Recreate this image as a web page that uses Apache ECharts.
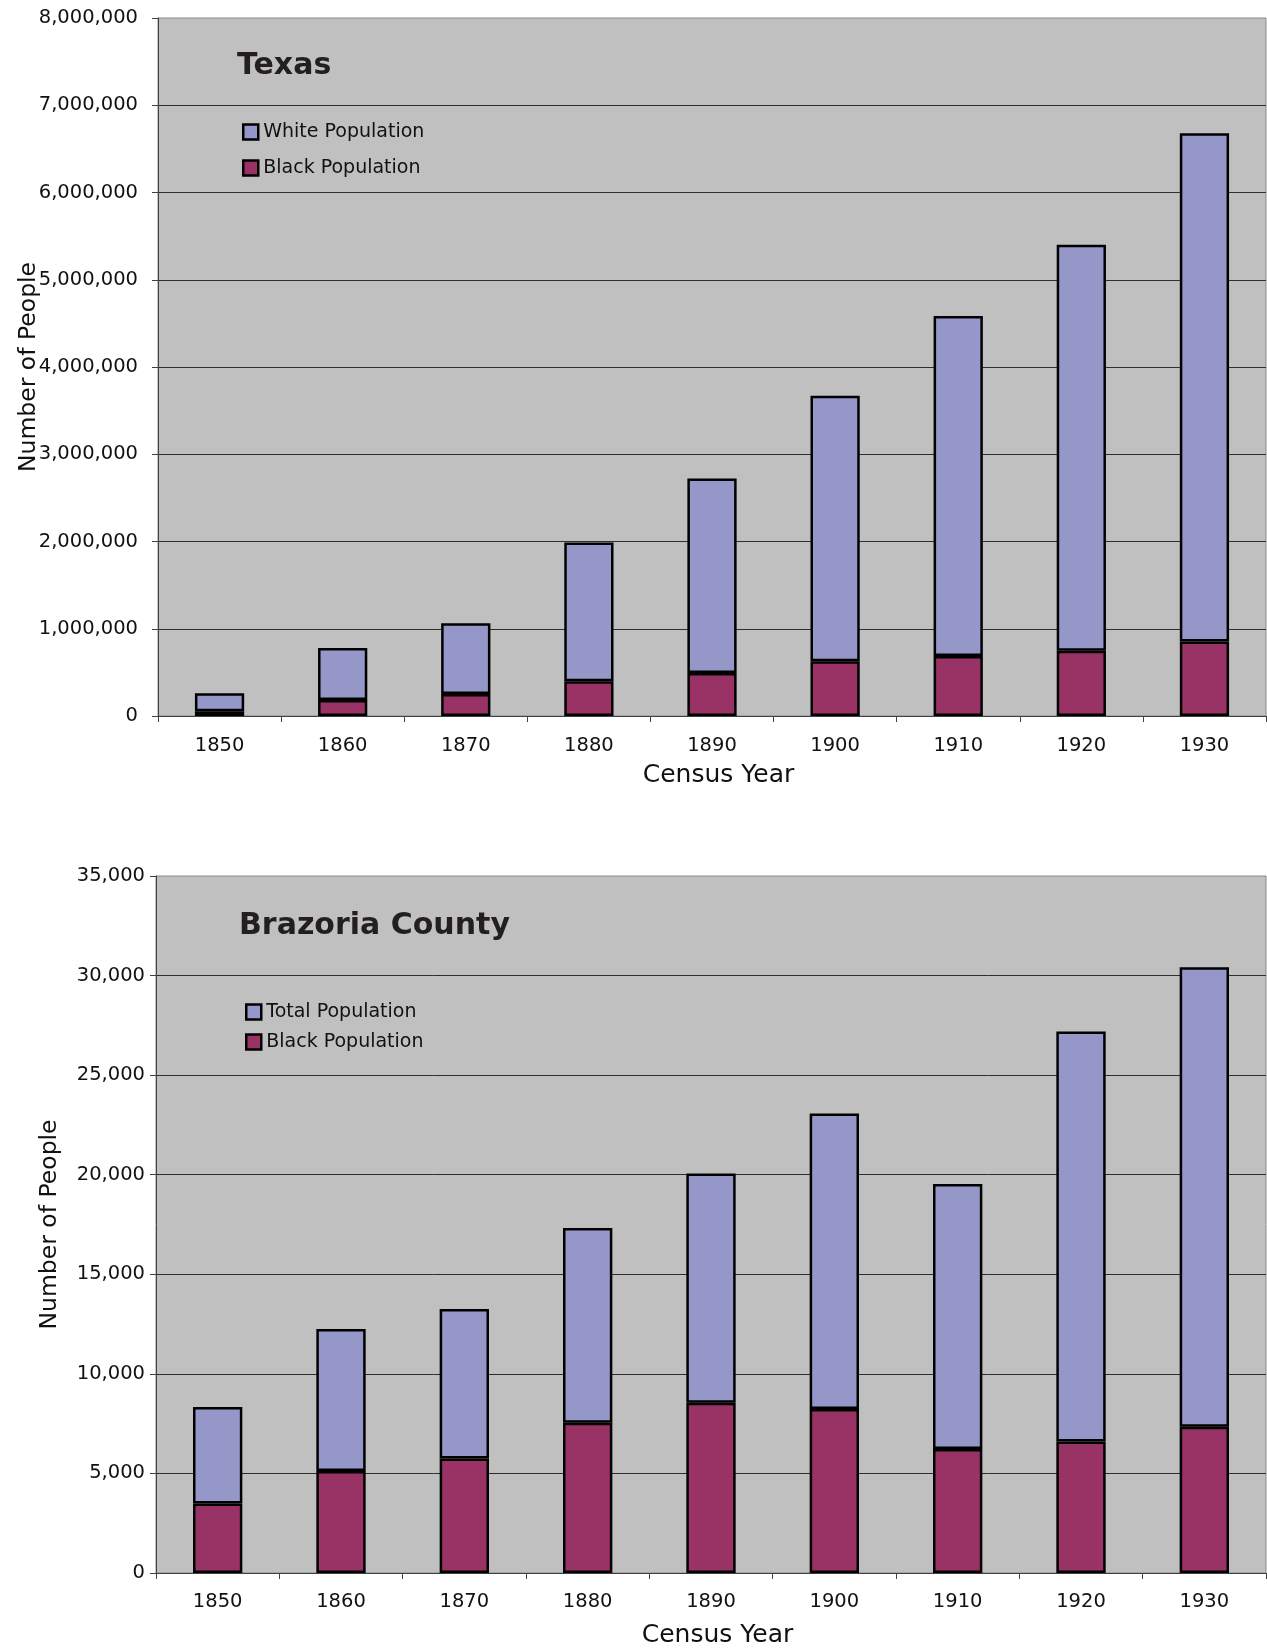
<!DOCTYPE html>
<html>
<head>
<meta charset="utf-8">
<title>Texas and Brazoria County Population by Census Year</title>
<script src="https://cdn.jsdelivr.net/npm/echarts@6/dist/echarts.min.js"></script>
<style>
  html, body { margin: 0; padding: 0; background: #ffffff; }
  #chart { width: 1267px; height: 1648px; }
</style>
</head>
<body>
<div id="chart"></div>
<script>
// Census years shared by both panels
const years = ['1850', '1860', '1870', '1880', '1890', '1900', '1910', '1920', '1930'];

// Texas (stacked: black population at the base, white population on top)
const texasBlack = [55000, 182000, 251000, 398000, 494000, 627000, 687000, 747000, 855000];
const texasWhite = [207000, 597000, 811000, 1590000, 2229000, 3043000, 3898000, 4653000, 5825000];

// Brazoria County (stacked: black population at the base, total population on top)
const brazoriaBlack = [3485, 5121, 5755, 7550, 8553, 8237, 6230, 6600, 7339];
const brazoriaTotal = [4857, 7128, 7497, 9768, 11510, 14836, 13305, 20591, 23073];

// Value axis ranges
const texasAxis = { max: 8000000, interval: 1000000 };
const brazoriaAxis = { max: 35000, interval: 5000 };

const BLUE = '#9597c9';
const PLUM = '#993366';
const TEXT = '#111111';
const LABEL_FONT = 'DejaVu Sans';

function withCommas(v) {
  return String(Math.round(v)).replace(/\B(?=(\d{3})+(?!\d))/g, ',');
}

const chart = echarts.init(document.getElementById('chart'), null, { renderer: 'canvas' });

const gridCommon = {
  show: true,
  backgroundColor: '#c0c0c0',
  borderColor: '#8a8a8a',
  borderWidth: 1,
  containLabel: false,
  outerBoundsMode: 'none'
};

function xAxisFor(gridIndex, labelMargin, nameGap) {
  return {
    type: 'category',
    gridIndex: gridIndex,
    data: years,
    boundaryGap: true,
    axisLine: { show: true, lineStyle: { color: '#404040', width: 1 } },
    axisTick: { show: true, length: 6, lineStyle: { color: '#404040' } },
    axisLabel: { color: TEXT, fontFamily: LABEL_FONT, fontSize: 19.5, margin: labelMargin },
    name: 'Census Year',
    nameLocation: 'middle',
    nameGap: nameGap,
    nameMoveOverlap: false,
    nameTextStyle: { color: TEXT, fontFamily: LABEL_FONT, fontSize: 25, padding: [0, 0, 0, 13] },
    splitLine: { show: false }
  };
}

function yAxisFor(gridIndex, range, labelMargin, nameGap) {
  return {
    type: 'value',
    gridIndex: gridIndex,
    min: 0,
    max: range.max,
    interval: range.interval,
    axisLine: { show: true, lineStyle: { color: '#404040', width: 1 } },
    axisTick: { show: true, length: 6, lineStyle: { color: '#404040' } },
    axisLabel: {
      color: TEXT, fontFamily: LABEL_FONT, fontSize: 19.5, margin: labelMargin,
      formatter: withCommas
    },
    splitLine: { show: true, showMaxLine: false, lineStyle: { color: '#2e2e2e', width: 1 } },
    name: 'Number of People',
    nameLocation: 'middle',
    nameGap: nameGap,
    nameMoveOverlap: false,
    nameTextStyle: { color: TEXT, fontFamily: LABEL_FONT, fontSize: 23.5 }
  };
}

const barStyle = (color) => ({ color: color, borderColor: '#000000', borderWidth: 2.5 });

const legendCommon = {
  orient: 'vertical',
  padding: 0,
  itemWidth: 15,
  itemHeight: 15,
  icon: 'rect',
  itemStyle: { borderColor: '#000000', borderWidth: 2.5 },
  textStyle: { color: TEXT, fontFamily: LABEL_FONT, fontSize: 19, lineHeight: 20 },
  selectedMode: false
};

chart.setOption({
  animation: false,
  backgroundColor: '#ffffff',
  grid: [
    Object.assign({ left: 158, right: 1, top: 18, height: 698 }, gridCommon),
    Object.assign({ left: 156, right: 1, top: 876, height: 697 }, gridCommon)
  ],
  xAxis: [xAxisFor(0, 20, 46.5), xAxisFor(1, 19, 49.5)],
  yAxis: [yAxisFor(0, texasAxis, 20, 117), yAxisFor(1, brazoriaAxis, 11, 94)],
  legend: [
    Object.assign({ left: 242, top: 122, itemGap: 16,
      data: ['White Population', 'Black Population'] }, legendCommon),
    Object.assign({ left: 245, top: 1002, itemGap: 10,
      data: ['Total Population', 'Black Population'] }, legendCommon)
  ],
  graphic: [
    {
      type: 'text', left: 237, top: 51,
      style: { text: 'Texas', fill: '#231f20', font: 'bold 30px "DejaVu Sans"' }
    },
    {
      type: 'text', left: 239, top: 911,
      style: { text: 'Brazoria County', fill: '#231f20', font: 'bold 30px "DejaVu Sans"' }
    }
  ],
  series: [
    {
      name: 'Black Population', type: 'bar', xAxisIndex: 0, yAxisIndex: 0,
      stack: 'texas', barWidth: '40%', data: texasBlack, itemStyle: barStyle(PLUM)
    },
    {
      name: 'White Population', type: 'bar', xAxisIndex: 0, yAxisIndex: 0,
      stack: 'texas', barWidth: '40%', data: texasWhite, itemStyle: barStyle(BLUE)
    },
    {
      name: 'Black Population', type: 'bar', xAxisIndex: 1, yAxisIndex: 1,
      stack: 'brazoria', barWidth: '40%', data: brazoriaBlack, itemStyle: barStyle(PLUM)
    },
    {
      name: 'Total Population', type: 'bar', xAxisIndex: 1, yAxisIndex: 1,
      stack: 'brazoria', barWidth: '40%', data: brazoriaTotal, itemStyle: barStyle(BLUE)
    }
  ]
});
</script>
</body>
</html>
